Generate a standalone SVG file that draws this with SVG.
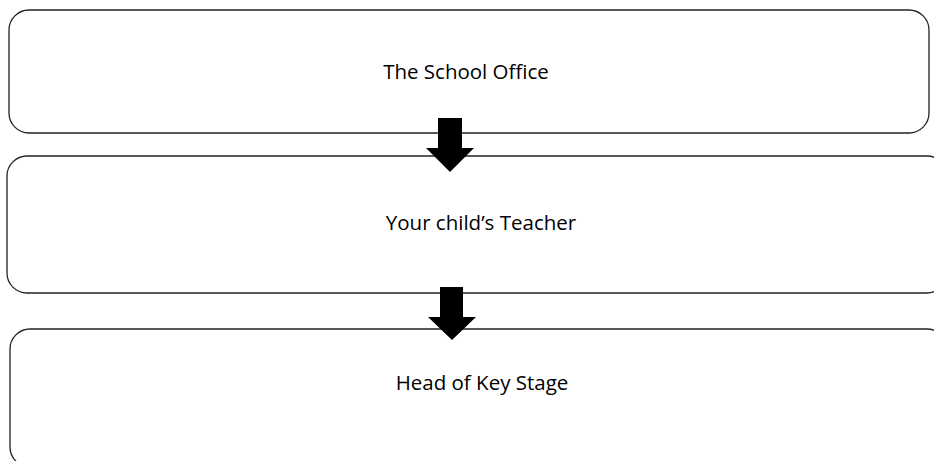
<svg xmlns="http://www.w3.org/2000/svg" width="934" height="461" viewBox="0 0 934 461">
<style>
.box{fill:#fff;stroke:#222;stroke-width:1.3}
.lbl{font-family:"Open Sans","Noto Sans",sans-serif;font-size:20.5px;fill:#000;text-anchor:middle}
.arr{fill:#000;stroke:none}
</style>
<rect width="934" height="461" fill="#fff"/>
<g id="node-office">
<rect class="box" x="9" y="10" width="920" height="123" rx="20" ry="20"/>
<text class="lbl" x="466" y="79">The School Office</text>
</g>
<g id="node-teacher">
<rect class="box" x="7" y="156" width="940" height="137" rx="20" ry="20"/>
<text class="lbl" x="481" y="230">Your child’s Teacher</text>
</g>
<g id="node-head">
<rect class="box" x="10" y="329" width="937" height="138" rx="20" ry="20"/>
<text class="lbl" x="482" y="390">Head of Key Stage</text>
</g>
<g id="connectors">
<polygon class="arr" points="438,118 462,118 462,148 474,148 450,172 426,148 438,148"/>
<polygon class="arr" points="440,287 463,287 463,317 476,317 452,340 428,317 440,317"/>
</g>
</svg>
